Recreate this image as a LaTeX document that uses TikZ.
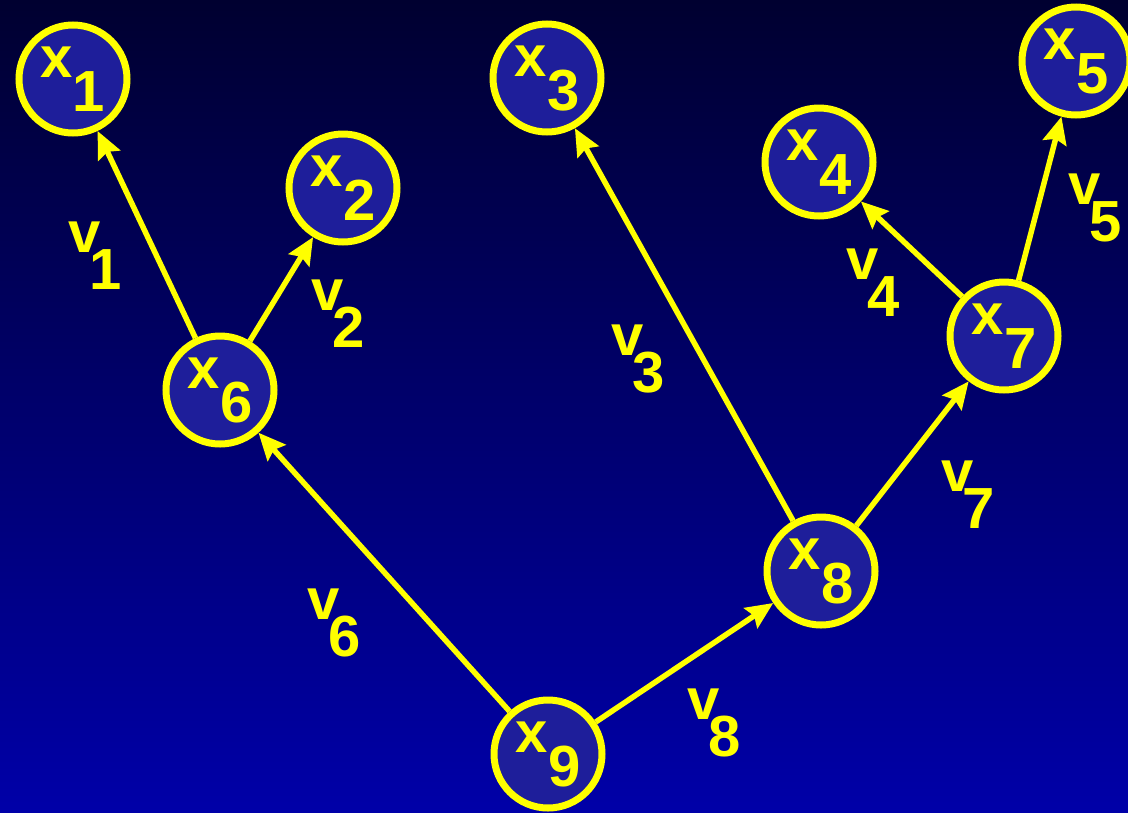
\documentclass[tikz,border=0pt]{standalone}
\usepackage{fontspec}
\setmainfont{Liberation Sans}
\usetikzlibrary{arrows.meta}
\definecolor{bgtop}{HTML}{000030}
\definecolor{bgbot}{HTML}{0000A8}
\definecolor{nodefill}{HTML}{1E1E9A}
\definecolor{yel}{HTML}{FFFF00}
\newcommand{\xlab}[1]{x\raisebox{-34pt}{#1}}
\newcommand{\vlab}[1]{v\kern-10.5pt\raisebox{-37pt}{#1}}
\begin{document}
\begin{tikzpicture}[x=1pt,y=-1pt,
  bigfont/.style={font=\bfseries\fontsize{58}{60}\selectfont},
  vnode/.style={circle,draw=yel,line width=7pt,fill=nodefill,minimum size=108pt,inner sep=0pt,text=yel,bigfont},
  vlabel/.style={anchor=base west,inner sep=0pt,text=yel,bigfont},
  conn/.style={draw=yel,line width=5.5pt,-{Stealth[length=27pt,width=24pt,inset=4pt]}}]
\shade[top color=bgtop,bottom color=bgbot] (0,0) rectangle (1128,812);
\useasboundingbox (0,0) rectangle (1128,812);
% nodes
\node[vnode] (x1) at (73,79) {\xlab{1}};
\node[vnode] (x2) at (343,188) {\xlab{2}};
\node[vnode] (x3) at (547,78) {\xlab{3}};
\node[vnode] (x4) at (819,162) {\xlab{4}};
\node[vnode] (x5) at (1076,61) {\xlab{5}};
\node[vnode] (x6) at (220,390) {\xlab{6}};
\node[vnode] (x7) at (1004,336) {\xlab{7}};
\node[vnode] (x8) at (821,571) {\xlab{8}};
\node[vnode] (x9) at (548,754) {\xlab{9}};
% connectors
\draw[conn] (x6) -- (x1);
\draw[conn] (x6) -- (x2);
\draw[conn] (x8) -- (x3);
\draw[conn] (x7) -- (x4);
\draw[conn] (x7) -- (x5);
\draw[conn] (x9) -- (x6);
\draw[conn] (x8) -- (x7);
\draw[conn] (x9) -- (x8);
% labels
\node[vlabel] (v1) at (68,252) {\vlab{1}};
\node[vlabel] (v2) at (311,310) {\vlab{2}};
\node[vlabel] (v3) at (611,355) {\vlab{3}};
\node[vlabel] (v4) at (846,279) {\vlab{4}};
\node[vlabel] (v5) at (1068,204) {\vlab{5}};
\node[vlabel] (v6) at (307,619) {\vlab{6}};
\node[vlabel] (v7) at (941,491) {\vlab{7}};
\node[vlabel] (v8) at (687,719) {\vlab{8}};
\end{tikzpicture}
\end{document}
